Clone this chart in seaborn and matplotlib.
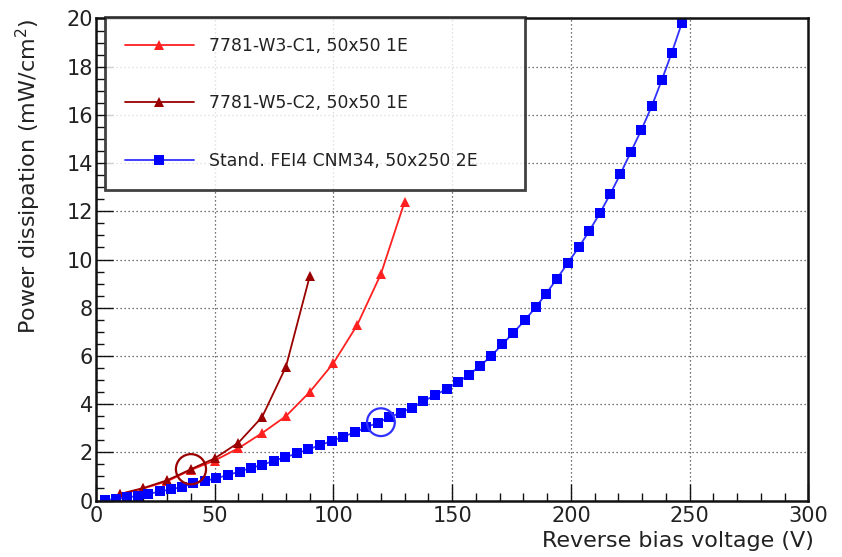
import matplotlib
matplotlib.use("Agg")
import matplotlib.pyplot as plt
import seaborn as sns
import pandas as pd
from matplotlib.ticker import MultipleLocator

# ---- data ----
w3_voltage = [10, 20, 30, 40, 50, 60, 70, 80, 90, 100, 110, 120, 130]
w3_power = [0.25, 0.5, 0.8, 1.27, 1.66, 2.17, 2.8, 3.5, 4.5, 5.7, 7.28, 9.4, 12.4]

w5_voltage = [10, 20, 30, 40, 50, 60, 70, 80, 90]
w5_power = [0.27, 0.52, 0.84, 1.3, 1.75, 2.4, 3.47, 5.55, 9.3]

fei4_voltage = [3.8, 8.3, 12.9, 17.6, 22.1, 27.0, 31.6, 36.4, 41.0, 46.0,
                50.6, 55.5, 60.5, 65.3, 69.9, 74.8, 79.7, 84.7, 89.3, 94.2,
                99.2, 104.1, 109.0, 113.9, 118.7, 123.5, 128.4, 133.2, 137.9, 142.8,
                147.7, 152.6, 157.1, 161.7, 166.5, 171.2, 175.8, 180.6, 185.2, 189.5,
                194.1, 198.6, 203.3, 207.7, 212.2, 216.6, 220.8, 225.3, 229.7, 234.1,
                238.3, 242.5, 246.7]
fei4_power = [0.02, 0.06, 0.13, 0.19, 0.27, 0.38, 0.46, 0.57, 0.71, 0.82,
              0.92, 1.06, 1.2, 1.36, 1.47, 1.65, 1.79, 1.96, 2.12, 2.29,
              2.47, 2.65, 2.83, 3.04, 3.23, 3.45, 3.65, 3.85, 4.12, 4.37,
              4.63, 4.92, 5.22, 5.58, 6.0, 6.49, 6.96, 7.48, 8.02, 8.57,
              9.2, 9.84, 10.5, 11.18, 11.92, 12.72, 13.54, 14.47, 15.38, 16.37,
              17.45, 18.58, 19.8]

labels = ["7781-W3-C1, 50x50 1E", "7781-W5-C2, 50x50 1E", "Stand. FEI4 CNM34, 50x250 2E"]

highlight_voltage = [40, 120]
highlight_power = [1.3, 3.25]

x_label = "Reverse bias voltage (V)"
y_label = "Power dissipation (mW/cm$^2$)"

# ---- styling ----
sns.set_theme(style="white")
plt.rcParams["font.family"] = ["DejaVu Sans"]
plt.rcParams["mathtext.fontset"] = "dejavusans"

fig = plt.figure(figsize=(8.42, 5.57), dpi=100)
ax = fig.add_axes([0.114, 0.1014, 0.846, 0.8654])

df_w3 = pd.DataFrame({"V": w3_voltage, "P": w3_power})
df_w5 = pd.DataFrame({"V": w5_voltage, "P": w5_power})
df_fe = pd.DataFrame({"V": fei4_voltage, "P": fei4_power})

sns.lineplot(data=df_w3, x="V", y="P", ax=ax, color="#ff2020", linewidth=1.3,
             marker="^", markersize=6.5, markeredgewidth=0, label=labels[0], sort=False)
sns.lineplot(data=df_w5, x="V", y="P", ax=ax, color="#9a0000", linewidth=1.3,
             marker="^", markersize=6.5, markeredgewidth=0, label=labels[1], sort=False)
sns.lineplot(data=df_fe, x="V", y="P", ax=ax, color="#3030ff", linewidth=1.3,
             marker="s", markersize=6.5, markeredgewidth=0, markerfacecolor="#0000ff",
             label=labels[2], sort=False)

ax.scatter(highlight_voltage[:1], highlight_power[:1], s=470, facecolors="none",
           edgecolors="#9a0000", linewidths=1.6, zorder=5)
ax.scatter(highlight_voltage[1:], highlight_power[1:], s=400, facecolors="none",
           edgecolors="#3030ff", linewidths=1.6, zorder=5)

ax.set_xlim(0, 300)
ax.set_ylim(0, 20)
ax.xaxis.set_major_locator(MultipleLocator(50))
ax.xaxis.set_minor_locator(MultipleLocator(10))
ax.yaxis.set_major_locator(MultipleLocator(2))
ax.yaxis.set_minor_locator(MultipleLocator(0.5))

ax.grid(True, which="major", color="#444444", linestyle=(0, (1, 2.2)), linewidth=0.9)
ax.tick_params(axis="both", which="both", direction="in", colors="#111111",
               labelsize=15, labelcolor="#222222")
ax.tick_params(axis="both", which="major", length=12, width=1.0)
ax.tick_params(axis="both", which="minor", length=6, width=1.0)
ax.tick_params(axis="x", which="major", pad=4)
ax.tick_params(axis="y", which="major", pad=2)
ax.tick_params(axis="both", which="both", bottom=True, left=True, top=False, right=False)

for s in ax.spines.values():
    s.set_color("#111111")
    s.set_linewidth(1.8)

ax.set_xlabel(x_label, fontsize=16, color="#222222", loc="right")
ax.xaxis.set_label_coords(1.008, -0.064)
ax.xaxis.label.set_verticalalignment("top")
ax.set_ylabel(y_label, fontsize=16, color="#222222", loc="top")
ax.yaxis.set_label_coords(-0.075, 1.0)

leg = ax.legend(loc="upper left", bbox_to_anchor=(0.0126, 0.650, 0.59, 0.353),
                mode="expand", borderaxespad=0, fontsize=12.4, frameon=True,
                fancybox=False, handlelength=4.0, handletextpad=0.9,
                borderpad=1.15, labelspacing=2.3)
leg.get_frame().set_edgecolor("#111111")
leg.get_frame().set_linewidth(2.0)
for t in leg.get_texts():
    t.set_color("#222222")

fig.savefig("out.png", dpi=100)
